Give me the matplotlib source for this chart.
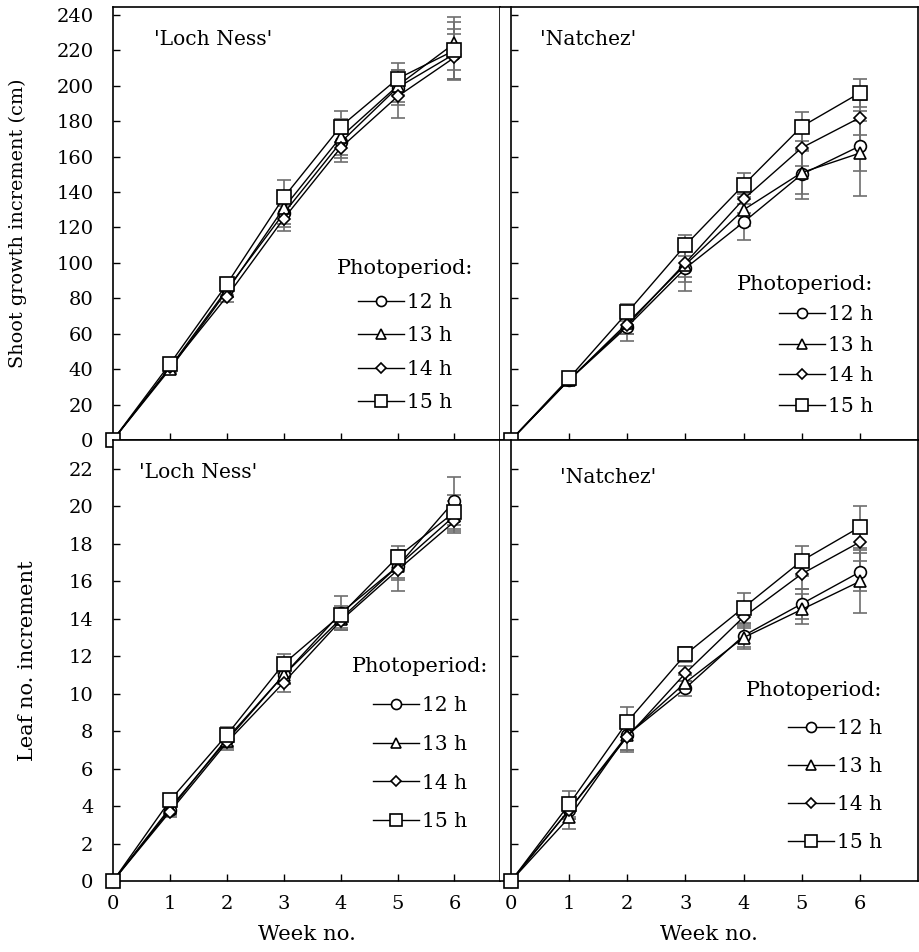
import matplotlib
matplotlib.use("Agg")
import matplotlib.pyplot as plt

plt.rcParams['font.family'] = ['DejaVu Serif']

weeks = [0, 1, 2, 3, 4, 5, 6]
photoperiods = ['12 h', '13 h', '14 h', '15 h']
markers = ['o', '^', 'D', 's']
msizes = [8.5, 8.5, 6.5, 9.5]

# shoot growth increment (cm), 'Loch Ness'
shoot_ln = [
    [0, 41, 85, 128, 168, 199, 218],
    [0, 40, 84, 131, 171, 200, 224],
    [0, 41, 81, 125, 165, 194, 216],
    [0, 43, 88, 137, 177, 204, 220],
]
shoot_ln_err = [
    [0, 3, 3, 8, 9, 10, 14],
    [0, 3, 3, 9, 10, 9, 15],
    [0, 3, 3, 7, 8, 12, 13],
    [0, 3, 3, 10, 9, 9, 16],
]

# shoot growth increment (cm), 'Natchez'
shoot_nz = [
    [0, 34, 64, 97, 123, 150, 166],
    [0, 34, 66, 99, 130, 151, 162],
    [0, 34, 65, 100, 136, 165, 182],
    [0, 35, 72, 110, 144, 177, 196],
]
shoot_nz_err = [
    [0, 3, 8, 13, 10, 14, 14],
    [0, 3, 6, 10, 9, 12, 24],
    [0, 3, 5, 8, 8, 10, 10],
    [0, 3, 5, 6, 7, 8, 8],
]

# leaf number increment, 'Loch Ness'
leaf_ln = [
    [0, 3.8, 7.6, 11.0, 14.3, 16.8, 20.3],
    [0, 3.9, 7.5, 11.0, 14.0, 16.8, 19.5],
    [0, 3.7, 7.4, 10.6, 13.9, 16.6, 19.2],
    [0, 4.3, 7.8, 11.6, 14.2, 17.3, 19.7],
]
leaf_ln_err = [
    [0, 0.3, 0.4, 0.5, 0.9, 0.6, 1.3],
    [0, 0.3, 0.4, 0.5, 0.5, 0.7, 0.8],
    [0, 0.3, 0.4, 0.5, 0.5, 1.1, 0.6],
    [0, 0.3, 0.4, 0.5, 0.5, 0.6, 0.9],
]

# leaf number increment, 'Natchez'
leaf_nz = [
    [0, 3.8, 7.8, 10.3, 13.1, 14.8, 16.5],
    [0, 3.4, 7.8, 10.6, 13.0, 14.5, 16.0],
    [0, 3.8, 7.7, 11.1, 14.1, 16.4, 18.1],
    [0, 4.1, 8.5, 12.1, 14.6, 17.1, 18.9],
]
leaf_nz_err = [
    [0, 0.5, 0.8, 0.4, 0.6, 0.8, 1.0],
    [0, 0.6, 0.8, 0.4, 0.6, 0.8, 1.7],
    [0, 0.5, 0.8, 0.4, 0.6, 0.8, 1.0],
    [0, 0.7, 0.8, 0.4, 0.8, 0.8, 1.1],
]

W, H = 920, 952
fig = plt.figure(figsize=(W / 100, H / 100), dpi=100)

def box(x0, x1, ytop, ybot):
    return [x0 / W, 1 - ybot / H, (x1 - x0) / W, (ybot - ytop) / H]

ax_tl = fig.add_axes(box(113, 500, 7, 440))
ax_tr = fig.add_axes(box(500, 918, 7, 440))
ax_bl = fig.add_axes(box(113, 500, 440, 881))
ax_br = fig.add_axes(box(500, 918, 440, 881))


def draw_panel(ax, data, err, cultivar, name_xy, leg_loc, leg_anchor,
               leg_spacing, leg_align):
    for vals, e in zip(data, err):
        ax.errorbar(weeks, vals, yerr=e, fmt='none', ecolor='#6e6e6e',
                    elinewidth=1.2, capsize=5, capthick=1.2, zorder=2)
    for vals, m, ms, lab in zip(data, markers, msizes, photoperiods):
        ax.plot(weeks, vals, color='black', lw=1.0, marker=m, markersize=ms,
                markerfacecolor='white', markeredgecolor='black',
                markeredgewidth=1.2, label=lab, zorder=3, clip_on=False)
    ax.text(name_xy[0], name_xy[1], cultivar, transform=ax.transAxes,
            fontsize=14.6, va='center', ha='left')
    ax.legend(title='Photoperiod:', loc=leg_loc, alignment=leg_align,
              bbox_to_anchor=leg_anchor, frameon=False, fontsize=14.5,
              title_fontsize=15, handlelength=2.3, handletextpad=0.15,
              labelspacing=leg_spacing, borderpad=0, markerscale=0.85)
    for side in ['top', 'bottom', 'left', 'right']:
        ax.spines[side].set_linewidth(1.2)
    ax.tick_params(direction='in', length=5, width=1, labelsize=14)
    ax.tick_params(axis='y', pad=14)
    ax.tick_params(axis='x', pad=10)
    ax.set_xticks(weeks)


draw_panel(ax_tl, shoot_ln, shoot_ln_err, "'Loch Ness'", (0.105, 0.925),
           'upper center', (0.754, 0.441), 0.72, 'center')
draw_panel(ax_tr, shoot_nz, shoot_nz_err, "'Natchez'", (0.095, 0.925),
           'upper right', (0.917, 0.405), 0.57, 'right')
draw_panel(ax_bl, leaf_ln, leaf_ln_err, "'Loch Ness'", (0.068, 0.927),
           'upper center', (0.793, 0.53), 0.98, 'center')
draw_panel(ax_br, leaf_nz, leaf_nz_err, "'Natchez'", (0.143, 0.916),
           'upper right', (0.938, 0.476), 0.94, 'right')

# left column starts at week 0; right column has its y axis drawn at week 0
for ax in (ax_tl, ax_bl):
    ax.set_xlim(0, 6.8)
for ax in (ax_tr, ax_br):
    ax.set_xlim(-0.19, 7.0)
    ax.spines['left'].set_position(('data', 0))
    ax.tick_params(axis='y', labelleft=False)

for ax in (ax_tl, ax_tr):
    ax.set_ylim(0, 244.5)
    ax.set_yticks(range(0, 241, 20))
    ax.tick_params(axis='x', labelbottom=False)
for ax in (ax_bl, ax_br):
    ax.set_ylim(0, 23.55)
    ax.set_yticks(range(0, 23, 2))
    ax.set_xlabel('Week no.', fontsize=15.3, labelpad=9)

ax_tl.set_ylabel('Shoot growth increment (cm)', fontsize=13.9)
ax_tl.yaxis.set_label_coords(-0.222, 0.5)
ax_bl.set_ylabel('Leaf no. increment', fontsize=15)
ax_bl.yaxis.set_label_coords(-0.197, 0.5)

fig.savefig('out.png', dpi=100)
